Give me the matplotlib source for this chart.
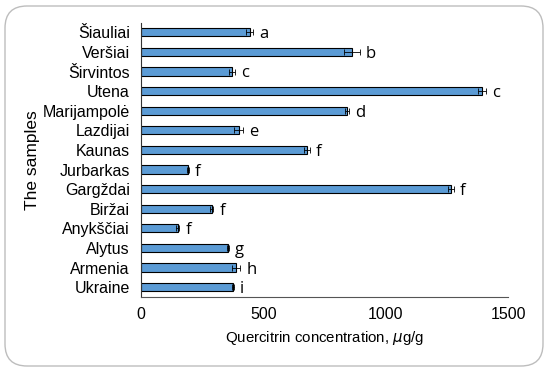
import numpy as np
import matplotlib.pyplot as plt
from matplotlib.patches import FancyBboxPatch

# datos (de arriba hacia abajo)
samples = ['Šiauliai', 'Veršiai', 'Širvintos', 'Utena', 'Marijampolė', 'Lazdijai',
           'Kaunas', 'Jurbarkas', 'Gargždai', 'Biržai', 'Anykščiai', 'Alytus',
           'Armenia', 'Ukraine']
values = [445, 862, 372, 1393, 842, 400, 678, 192, 1267, 290, 151, 355, 388, 376]
errors = [14, 33, 14, 16, 8, 18, 12, 3, 12, 6, 6, 5, 18, 4]
letters = ['a', 'b', 'c', 'c', 'd', 'e', 'f', 'f', 'f', 'f', 'f', 'g', 'h', 'i']

plt.rcParams['font.family'] = ['Liberation Sans', 'DejaVu Sans']

fig = plt.figure(figsize=(5.5, 3.71), dpi=100)
ax = fig.add_axes([141 / 550, 1 - 297 / 371, (508 - 141) / 550, (297 - 22.5) / 371])

# marco redondeado
frame = FancyBboxPatch((5 / 550, 5 / 371), 538 / 550, 360 / 371,
                       boxstyle='round,pad=0,rounding_size=0.04',
                       transform=fig.transFigure, facecolor='none',
                       edgecolor='#bdbdbd', linewidth=1.0, mutation_aspect=550 / 371)
fig.patches.append(frame)

y = np.arange(len(samples))[::-1]
ax.barh(y, values, height=0.42, color='#5b9bd5', edgecolor='black', linewidth=0.8,
        xerr=errors, error_kw=dict(ecolor='black', elinewidth=0.6, capsize=2, capthick=0.6))

for yi, v, e, l in zip(y, values, errors, letters):
    ax.text(v + e + 25, yi - 0.1, l, va='center', ha='left', fontsize=12,
            family=['Open Sans', 'DejaVu Sans'])

ax.set_xlim(0, 1500)
ax.set_ylim(-0.5, 13.5)
ax.set_xticks([0, 500, 1000, 1500])
ax.set_yticks(y)
ax.set_yticklabels(samples)
ax.tick_params(axis='both', length=0, labelsize=11.5)
ax.tick_params(axis='y', pad=8)
ax.tick_params(axis='x', pad=7)

for s in ['top', 'right']:
    ax.spines[s].set_visible(False)
ax.spines['left'].set_color('#333333')
ax.spines['bottom'].set_color('#555555')
ax.spines['left'].set_linewidth(0.8)
ax.spines['bottom'].set_linewidth(0.8)

ax.set_xlabel(r'Quercitrin concentration, $\mu$g/g', fontsize=10.8, labelpad=5)
ax.set_ylabel('The samples', fontsize=12.5, labelpad=2)

fig.savefig('out.png', dpi=100)
